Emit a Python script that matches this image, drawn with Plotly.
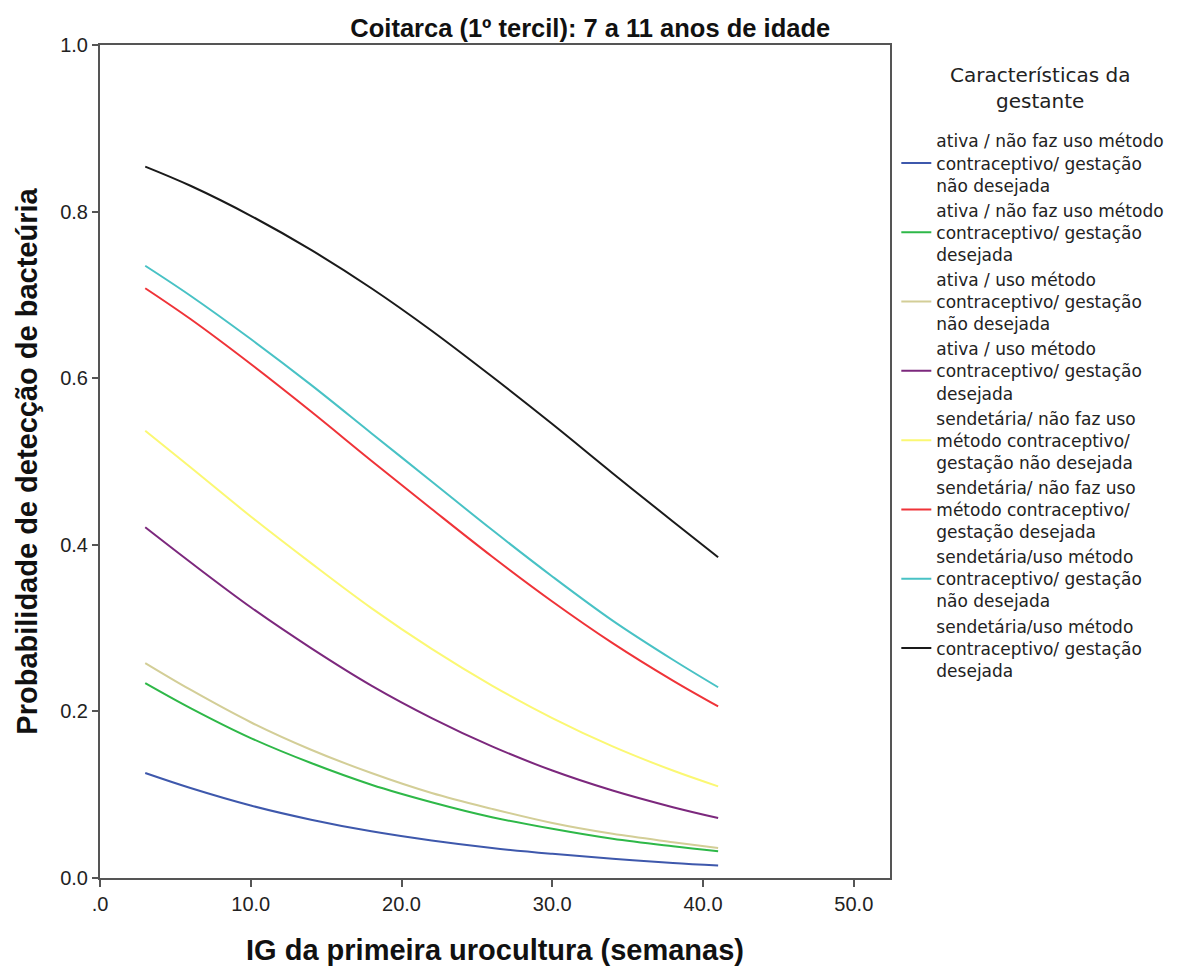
import plotly.graph_objects as go

# Gestational age (weeks) at which the fitted probabilities are tabulated
ig_semanas = [3, 6, 10, 14, 18, 22, 26, 30, 34, 38, 41]

# Fitted probability of bacteriuria detection per group of pregnant women
ativa_nao_uso_nao_desejada = [0.126, 0.108, 0.087, 0.070, 0.056, 0.045, 0.036, 0.029, 0.023, 0.018, 0.015]
ativa_nao_uso_desejada = [0.234, 0.204, 0.168, 0.138, 0.112, 0.091, 0.073, 0.059, 0.047, 0.038, 0.032]
ativa_uso_nao_desejada = [0.258, 0.226, 0.187, 0.154, 0.126, 0.102, 0.083, 0.066, 0.053, 0.043, 0.036]
ativa_uso_desejada = [0.421, 0.379, 0.325, 0.276, 0.231, 0.192, 0.158, 0.129, 0.105, 0.085, 0.072]
sed_nao_uso_nao_desejada = [0.537, 0.493, 0.434, 0.378, 0.324, 0.275, 0.231, 0.192, 0.158, 0.129, 0.110]
sed_nao_uso_desejada = [0.708, 0.671, 0.617, 0.560, 0.501, 0.443, 0.386, 0.332, 0.282, 0.237, 0.206]
sed_uso_nao_desejada = [0.735, 0.699, 0.647, 0.592, 0.534, 0.476, 0.418, 0.362, 0.309, 0.262, 0.229]
sed_uso_desejada = [0.854, 0.831, 0.795, 0.754, 0.708, 0.657, 0.602, 0.545, 0.486, 0.428, 0.385]

series_labels = [
    "ativa / não faz uso método<br>contraceptivo/ gestação<br>não desejada",
    "ativa / não faz uso método<br>contraceptivo/ gestação<br>desejada",
    "ativa / uso método<br>contraceptivo/ gestação<br>não desejada",
    "ativa / uso método<br>contraceptivo/ gestação<br>desejada",
    "sendetária/ não faz uso<br>método contraceptivo/<br>gestação não desejada",
    "sendetária/ não faz uso<br>método contraceptivo/<br>gestação desejada",
    "sendetária/uso método<br>contraceptivo/ gestação<br>não desejada",
    "sendetária/uso método<br>contraceptivo/ gestação<br>desejada",
]
series_values = [
    ativa_nao_uso_nao_desejada,
    ativa_nao_uso_desejada,
    ativa_uso_nao_desejada,
    ativa_uso_desejada,
    sed_nao_uso_nao_desejada,
    sed_nao_uso_desejada,
    sed_uso_nao_desejada,
    sed_uso_desejada,
]
series_colors = ["#3e58ac", "#2eb848", "#d3ce97", "#7c287d",
                 "#fbf873", "#ef3338", "#48c2c5", "#1a1a1a"]

legend_heading = "Características da<br>gestante"

x_ticks = [0, 10, 20, 30, 40, 50]
x_tick_text = [".0", "10.0", "20.0", "30.0", "40.0", "50.0"]
y_ticks = [0, 0.2, 0.4, 0.6, 0.8, 1.0]
y_tick_text = ["0.0", "0.2", "0.4", "0.6", "0.8", "1.0"]

fig = go.Figure()
for i, (label, vals, col) in enumerate(zip(series_labels, series_values, series_colors)):
    fig.add_trace(go.Scatter(
        x=ig_semanas, y=vals, mode="lines", name=label,
        legendgroup=f"g{i}",
        line=dict(color=col, width=2, shape="spline", smoothing=1.0),
    ))

sans = "Liberation Sans, Arial, sans-serif"
legend_font = "DejaVu Sans, Verdana, sans-serif"

# Centered heading above the legend entries
fig.add_annotation(
    text=legend_heading, xref="paper", yref="paper",
    x=1.19, y=0.948, xanchor="center", yanchor="middle",
    showarrow=False, align="center",
    font=dict(family=legend_font, size=20, color="#222222"),
)

fig.update_layout(
    width=1190, height=968,
    margin=dict(l=100, r=300, t=45, b=90),
    paper_bgcolor="white", plot_bgcolor="white",
    font=dict(family=sans, color="#222222"),
    title=dict(
        text="<b>Coitarca (1º tercil): 7 a 11 anos de idade</b>",
        x=0.496, xref="container", xanchor="center",
        y=0.971, yref="container", yanchor="middle",
        font=dict(size=25.5, color="#111111"),
    ),
    showlegend=True,
    legend=dict(
        x=1.008, xanchor="left", y=0.906, yanchor="top",
        bgcolor="rgba(0,0,0,0)",
        font=dict(family=legend_font, size=17, color="#222222"),
        traceorder="grouped", tracegroupgap=0,
        itemwidth=30,
    ),
    xaxis=dict(
        range=[0, 52.4], tickvals=x_ticks, ticktext=x_tick_text,
        showgrid=False, zeroline=False, automargin=False,
        showline=True, linecolor="#555555", linewidth=2, mirror=True,
        ticks="outside", ticklen=7, tickcolor="#555555", tickwidth=1.5,
        tickfont=dict(size=20, color="#222222"),
        title=dict(text="<b>IG da primeira urocultura (semanas)</b>",
                   font=dict(size=29, color="#111111"), standoff=26),
    ),
    yaxis=dict(
        range=[0, 1.0], tickvals=y_ticks, ticktext=y_tick_text,
        showgrid=False, zeroline=False, automargin=False,
        showline=True, linecolor="#555555", linewidth=2, mirror=True,
        ticks="outside", ticklen=6, tickcolor="#555555", tickwidth=1.5,
        tickfont=dict(size=20, color="#222222"),
        title=dict(text="<b>Probabilidade de detecção de bacteúria</b>",
                   font=dict(size=29, color="#111111"), standoff=14),
    ),
)

fig.write_html("out.html")
